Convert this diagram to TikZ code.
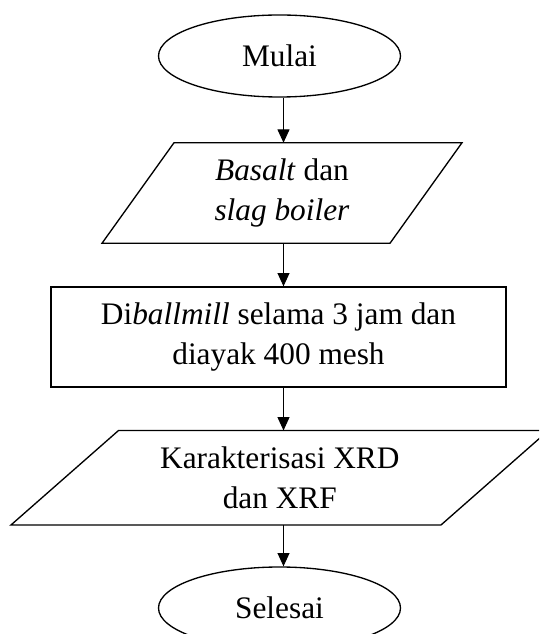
\documentclass[tikz,border=0pt]{standalone}
\usepackage{fontspec}
\setmainfont{Liberation Serif}
\usetikzlibrary{shapes.geometric,arrows.meta,calc}
\begin{document}
\begin{tikzpicture}[x=0.75pt,y=-0.75pt,
  term/.style={ellipse,draw,line width=1pt,minimum width=181.5pt,minimum height=61.5pt,inner sep=0pt},
  procbox/.style={rectangle,draw,line width=1pt,minimum width=341.25pt,minimum height=75pt,inner sep=0pt,align=center},
  iobox/.style={rectangle,inner sep=0pt,align=center},
  iopath/.style={line width=1pt,line join=miter},
  arr/.style={line width=0.75pt,-{Triangle[length=10pt,width=9pt]}},
  font=\fontsize{23.5}{30}\selectfont]
\clip (0,0) rectangle (539,634);
\coordinate (ax) at (283.5,0);
\node[term] (start) at (279.5,56) {Mulai};
\node[iobox,minimum height=75pt] (in) at (282,193) {\textit{Basalt} dan\\\textit{slag boiler}};
\draw[iopath] ($(in.north)+(-108,0)$) -- ($(in.north)+(180,0)$) -- ($(in.south)+(108,0)$) -- ($(in.south)+(-180,0)$) -- cycle;
\node[procbox] (mill) at (278.5,337) {Di\textit{ballmill} selama 3 jam dan\\diayak 400 mesh};
\node[iobox,minimum height=70.5pt] (char) at (279.8,477.7) {Karakterisasi XRD\\dan XRF};
\draw[iopath] ($(char.north)+(-161.2,0)$) -- ($(char.north)+(268.7,0)$) -- ($(char.south)+(161.2,0)$) -- ($(char.south)+(-268.8,0)$) -- cycle;
\node[term] (end) at (279.5,608) {Selesai};
\draw[arr] (start.south -| ax) -- (in.north -| ax);
\draw[arr] (in.south -| ax) -- (mill.north -| ax);
\draw[arr] (mill.south -| ax) -- (char.north -| ax);
\draw[arr] (char.south -| ax) -- (end.north -| ax);
\end{tikzpicture}
\end{document}
